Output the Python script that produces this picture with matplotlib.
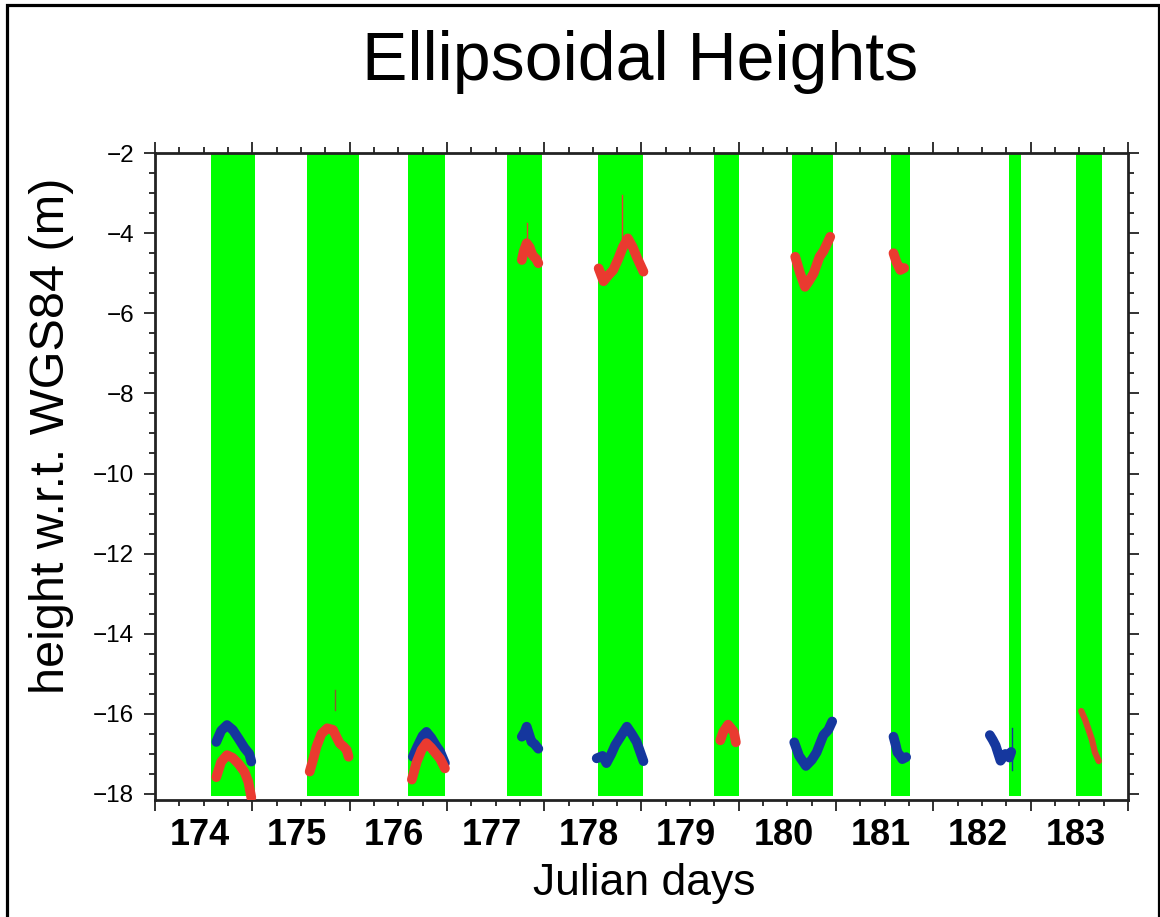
# Ellipsoidal heights per Julian day, green bands = observation windows
import numpy as np
import matplotlib
matplotlib.use('Agg')
import matplotlib.pyplot as plt
from matplotlib.patches import Rectangle

plt.rcParams['font.family'] = ['Liberation Sans', 'DejaVu Sans']

# Julian days on the axis
days = [174, 175, 176, 177, 178, 179, 180, 181, 182, 183]

# green observation windows (day fractions)
band_start = [174.58, 175.56, 176.60, 177.62, 178.55, 179.75, 180.55, 181.56, 182.78, 183.47]
band_end = [175.03, 176.10, 176.98, 177.98, 179.02, 180.00, 180.97, 181.76, 182.90, 183.73]

# blue series (one list per pass)
blue_174_x = [174.63, 174.68, 174.74, 174.80, 174.86, 174.92, 174.97, 174.99]
blue_174_y = [-16.70, -16.42, -16.28, -16.40, -16.62, -16.85, -17.00, -17.19]
blue_176_x = [176.65, 176.70, 176.75, 176.79, 176.84, 176.89, 176.93, 176.98]
blue_176_y = [-17.07, -16.80, -16.55, -16.45, -16.60, -16.80, -16.94, -17.23]
blue_177_x = [177.77, 177.80, 177.82, 177.85, 177.87, 177.90, 177.94]
blue_177_y = [-16.57, -16.45, -16.32, -16.55, -16.70, -16.75, -16.87]
blue_178_x = [178.54, 178.60, 178.64, 178.69, 178.73, 178.79, 178.85, 178.90, 178.95, 179.02]
blue_178_y = [-17.11, -17.05, -17.23, -17.00, -16.78, -16.55, -16.32, -16.50, -16.70, -17.18]
blue_180_x = [180.57, 180.62, 180.69, 180.75, 180.80, 180.87, 180.92, 180.96]
blue_180_y = [-16.71, -17.05, -17.30, -17.15, -16.96, -16.53, -16.40, -16.19]
blue_181_x = [181.59, 181.61, 181.63, 181.66, 181.68, 181.72]
blue_181_y = [-16.57, -16.75, -16.96, -17.05, -17.13, -17.08]
blue_182_x = [182.58, 182.61, 182.64, 182.69, 182.74, 182.78, 182.80]
blue_182_y = [-16.53, -16.65, -16.79, -17.17, -17.00, -17.09, -16.95]

# red series
red_174_x = [174.63, 174.68, 174.74, 174.80, 174.86, 174.92, 174.96, 174.99]
red_174_y = [-17.58, -17.20, -17.03, -17.10, -17.25, -17.45, -17.70, -18.09]
red_175_x = [175.59, 175.63, 175.66, 175.71, 175.77, 175.83, 175.87, 175.90, 175.94, 175.97, 175.99]
red_175_y = [-17.44, -17.10, -16.82, -16.50, -16.36, -16.40, -16.60, -16.74, -16.82, -16.90, -17.07]
red_176_x = [176.64, 176.69, 176.74, 176.79, 176.84, 176.89, 176.93, 176.98]
red_176_y = [-17.64, -17.20, -16.90, -16.73, -16.85, -17.00, -17.12, -17.36]
red_177_x = [177.77, 177.79, 177.82, 177.85, 177.88, 177.92, 177.94]
red_177_y = [-4.67, -4.45, -4.25, -4.35, -4.55, -4.65, -4.75]
red_178_x = [178.56, 178.61, 178.66, 178.71, 178.76, 178.81, 178.86, 178.91, 178.95, 179.02]
red_178_y = [-4.88, -5.20, -5.05, -4.92, -4.65, -4.34, -4.13, -4.35, -4.59, -4.96]
red_179_x = [179.81, 179.84, 179.89, 179.95, 179.97]
red_179_y = [-16.66, -16.45, -16.27, -16.45, -16.71]
red_180_x = [180.58, 180.63, 180.68, 180.72, 180.77, 180.83, 180.87, 180.90, 180.94]
red_180_y = [-4.59, -5.00, -5.34, -5.20, -5.00, -4.59, -4.45, -4.30, -4.09]
red_181_x = [181.59, 181.62, 181.66, 181.70]
red_181_y = [-4.50, -4.72, -4.92, -4.87]
red_183_x = [183.52, 183.56, 183.59, 183.63, 183.66, 183.70]
red_183_y = [-15.93, -16.15, -16.36, -16.65, -16.96, -17.18]

# thin outlier spikes: (day, y_top, y_bottom, colour key)
spike_day = [175.85, 177.82, 178.80, 182.81]
spike_top = [-15.40, -3.75, -3.05, -16.36]
spike_bot = [-15.90, -4.30, -4.20, -17.39]
spike_col = ['dark', 'red', 'red', 'blue']

GREEN = '#00ff00'
RED = '#ea3a30'
BLUE = '#15379e'

fig = plt.figure(figsize=(11.6, 9.17), dpi=100)
ax = fig.add_axes([0.1336, 0.1276, 0.8388, 0.7055])

ymin, ymax = -18.15, -2
for s, e in zip(band_start, band_end):
    ax.axvspan(s, e, ymin=0.006, ymax=1, color=GREEN, lw=0, zorder=1)

blue_passes = [(blue_174_x, blue_174_y), (blue_176_x, blue_176_y), (blue_177_x, blue_177_y),
               (blue_178_x, blue_178_y), (blue_180_x, blue_180_y), (blue_181_x, blue_181_y),
               (blue_182_x, blue_182_y)]
red_passes = [(red_174_x, red_174_y), (red_175_x, red_175_y), (red_176_x, red_176_y),
              (red_177_x, red_177_y), (red_178_x, red_178_y), (red_179_x, red_179_y),
              (red_180_x, red_180_y), (red_181_x, red_181_y)]

for x, y in blue_passes:
    ax.plot(x, y, color=BLUE, lw=7, solid_capstyle='round', solid_joinstyle='round', zorder=3)
for x, y in red_passes:
    ax.plot(x, y, color=RED, lw=7, solid_capstyle='round', solid_joinstyle='round', zorder=4)
ax.plot(red_183_x, red_183_y, color='#d8452c', lw=4.5, solid_capstyle='round', zorder=4)

cols = {'red': RED, 'blue': BLUE, 'dark': '#8a5a30'}
for d, t, b, c in zip(spike_day, spike_top, spike_bot, spike_col):
    ax.plot([d, d], [b, t], color=cols[c], lw=1, zorder=4)

ax.set_xlim(174, 184)
ax.set_ylim(ymin, ymax)
ax.set_xticks(np.arange(174, 185, 1))
ax.set_xticklabels([])
ax.set_xticks(np.arange(174, 184.01, 0.25), minor=True)
ax.set_yticks(np.arange(-18, -1, 2))
ax.set_yticks(np.arange(-18, -1.9, 0.5), minor=True)
ax.tick_params(which='both', direction='out', top=True, right=True, width=1.3, color='#222222')
ax.tick_params(which='major', length=8, labelsize=17.5, pad=7)
ax.tick_params(which='minor', length=4)
for sp in ax.spines.values():
    sp.set_linewidth(2)
    sp.set_color('#222222')

# day labels sit in the middle of each day
for d in days:
    ax.text(d + 0.46, -0.07, str(d), transform=ax.get_xaxis_transform(),
            ha='center', va='baseline', fontsize=26, fontweight='bold')

fig.text(640 / 1160, 1 - 80 / 917, 'Ellipsoidal Heights', fontsize=49, ha='center', va='baseline')
fig.text(644 / 1160, 1 - 895 / 917, 'Julian days', fontsize=32, ha='center', va='baseline')
fig.text(52 / 1160, 1 - 436 / 917, 'height w.r.t. WGS84 (m)', fontsize=35,
         rotation=90, ha='center', va='center')

# black frame around the picture (open at the bottom edge)
fig.patches.append(Rectangle((6.5 / 1160, -0.05), (1158.5 - 6.5) / 1160, 1.05 - 5.5 / 917,
                             transform=fig.transFigure, fill=False, lw=2.3, ec='black'))

fig.savefig('out.png', dpi=100)
